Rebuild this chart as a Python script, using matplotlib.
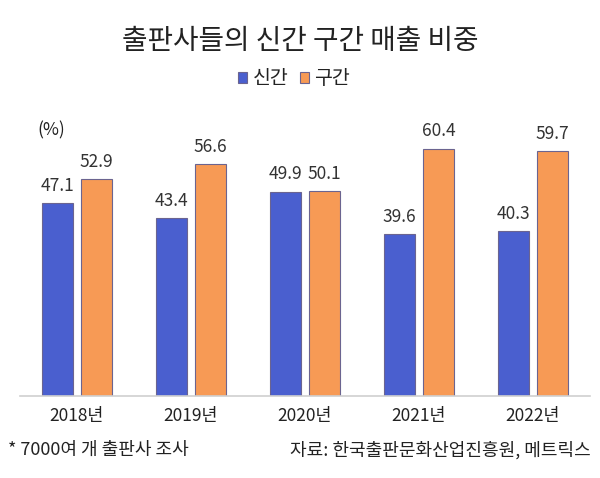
import matplotlib
matplotlib.use('Agg')
import matplotlib.pyplot as plt
import numpy as np

plt.rcParams['font.family'] = ['Noto Sans CJK KR', 'DejaVu Sans']

years = ['2018년', '2019년', '2020년', '2021년', '2022년']
new_books = [47.1, 43.4, 49.9, 39.6, 40.3]   # 신간
old_books = [52.9, 56.6, 50.1, 60.4, 59.7]   # 구간

blue = '#4a5fcf'
orange = '#f79a55'
edge = '#6b6490'
txt = '#333333'

fig = plt.figure(figsize=(6, 4.78), dpi=100)
ax = fig.add_axes([0.0333, 0.1715, 0.95, 0.60])

x = np.arange(len(years))
w = 0.27
off = 0.17
ax.bar(x - off, new_books, w, color=blue, edgecolor=edge, linewidth=0.8, label='신간')
ax.bar(x + off, old_books, w, color=orange, edgecolor=edge, linewidth=0.8, label='구간')

# value labels
for i in range(len(years)):
    ax.text(x[i] - off, new_books[i] + 2.0, f'{new_books[i]:.1f}', ha='center', va='bottom',
            fontsize=12.5, color=txt)
    ax.text(x[i] + off, old_books[i] + 2.0, f'{old_books[i]:.1f}', ha='center', va='bottom',
            fontsize=12.5, color=txt)

ax.set_xlim(-0.5, 4.5)
ax.set_ylim(0, 70)
ax.set_xticks(x)
ax.set_xticklabels(years, fontsize=12.5, color='#222222')
ax.tick_params(axis='x', length=0, pad=8)
ax.set_yticks([])
for s in ['top', 'right', 'left']:
    ax.spines[s].set_visible(False)
ax.spines['bottom'].set_color('#d0d0d0')
ax.spines['bottom'].set_linewidth(1.2)

fig.text(0.5, 0.915, '출판사들의 신간 구간 매출 비중', ha='center', va='center',
         fontsize=20, color='#222222')
fig.legend(loc='center', bbox_to_anchor=(0.49, 0.835), ncol=2, frameon=False,
           fontsize=14, handlelength=0.45, handleheight=0.45, handletextpad=0.3,
           columnspacing=0.6, labelcolor='#222222')
fig.text(0.063, 0.728, '(%)', ha='left', va='center', fontsize=12.5, color='#222222')

fig.text(0.013, 0.058, '* 7000여 개 출판사 조사', ha='left', va='center', fontsize=13, color='#222222')
fig.text(0.985, 0.058, '자료: 한국출판문화산업진흥원, 메트릭스', ha='right', va='center',
         fontsize=13, color='#222222')

fig.savefig('out.png', dpi=100)
